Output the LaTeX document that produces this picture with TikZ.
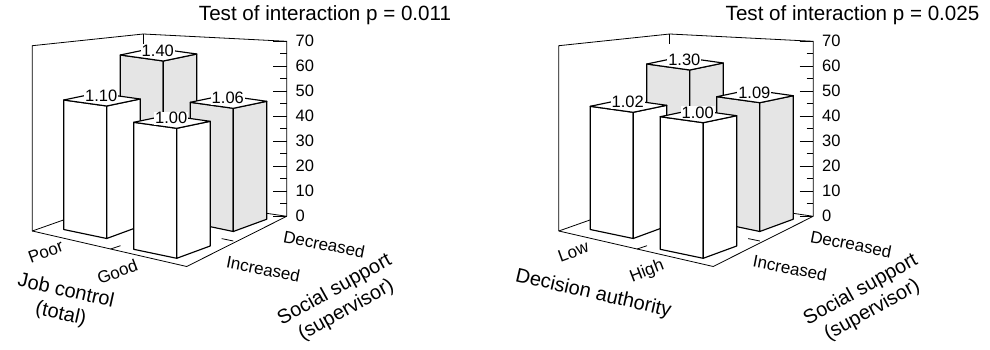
\documentclass[tikz,border=0pt]{standalone}
\usepackage{fontspec}
\setmainfont{Liberation Sans}
\definecolor{boxgray}{gray}{0.9}
\tikzset{
  wall/.style={line width=0.8pt},
  blockline/.style={line width=1.15pt, line join=round},
  vallabel/.style={fill=white, inner xsep=1pt, inner ysep=0.5pt, font=\fontsize{16.5}{18}\selectfont},
  ticklabel/.style={anchor=west, inner sep=0pt, xshift=8.5pt, font=\fontsize{16.5}{18}\selectfont},
  catlabel/.style={inner sep=0pt, font=\fontsize{17}{19}\selectfont},
  axtitle/.style={inner sep=0pt, align=center, font=\fontsize{20}{23.5}\selectfont},
  charttitle/.style={anchor=base, inner sep=0pt, font=\fontsize{20.6}{22}\selectfont}
}
% one block: name, front-bottom x, front-bottom y, height, side fill, value
\newcommand{\drawblock}[6]{%
  \filldraw [blockline, fill=#5] (#2-43,#3-9) -- (#2,#3) -- (#2,#3-#4) -- (#2-43,#3-#4-6) -- cycle;
  \filldraw [blockline, fill=#5] (#2,#3) -- (#2+33.5,#3-12.3) -- (#2+33.5,#3-#4-7) -- (#2,#3-#4) -- cycle;
  \filldraw [blockline, fill=white] (#2,#3-#4) -- (#2-43,#3-#4-6) -- (#2-9.5,#3-#4-13) -- (#2+33.5,#3-#4-7) -- cycle;
  \node [vallabel] (#1) at (#2-5.5,#3-#4-10) {#6};
}
\begin{document}
\begin{tikzpicture}[x=1pt,y=-1pt]
\useasboundingbox (0,0) rectangle (990,350);
% walls, floor and scale of both charts
\foreach \dx/\c in {0/a,526.5/b} {
\begin{scope}[shift={(\dx,0)}]
\draw [wall] (32.3,231) -- (32.3,45.7) -- (143.3,34) -- (286.7,41.3) -- (286.7,216.3);
\draw [wall] (143.3,34) -- (143.3,44);
\draw [wall] (32.3,231) -- (186.7,266.5) -- (286.7,216.3);
\draw [wall] (32.3,231) -- (137,194) -- (286.7,216.3);
\draw [wall] (110.5,249) -- (120.5,245.7);
\draw [wall] (233.3,241) -- (221.7,238.6);
\foreach \v in {0,10,...,70}
  \draw [wall] (273,216.3-2.5*\v) -- (286.7,216.3-2.5*\v) node [ticklabel] (\c-t\v) {\v};
\foreach \v in {5,15,...,65}
  \draw [wall] (280,216.3-2.5*\v) -- (286.7,216.3-2.5*\v);
\end{scope}
}
% job control
\drawblock{a-pd}{163.3}{212}{151}{boxgray}{1.40}
\drawblock{a-gd}{233.3}{231.5}{123.2}{boxgray}{1.06}
\drawblock{a-pi}{106.7}{238.5}{132.5}{white}{1.10}
\drawblock{a-gi}{176.7}{258.3}{130}{white}{1.00}
\node [charttitle] (a-title) at (325,20.7) {Test of interaction p = 0.011};
\node [catlabel, rotate=20] (a-poor) at (45.7,251.7) {Poor};
\node [catlabel, rotate=21] (a-good) at (117.3,271.7) {Good};
\node [axtitle, rotate=-12.5] (a-jobctl) at (63.3,303) {Job control\\(total)};
\node [catlabel, rotate=-11] (a-incr) at (263.3,269) {Increased};
\node [catlabel, rotate=-11] (a-decr) at (324.2,244.2) {Decreased};
\node [axtitle, rotate=29] (a-support) at (340.5,300.3) {Social support\\(supervisor)};
% decision authority
\begin{scope}[shift={(526.5,0)}]
\drawblock{b-ld}{163.3}{212}{142}{boxgray}{1.30}
\drawblock{b-hd}{233.3}{231.5}{128.8}{boxgray}{1.09}
\drawblock{b-li}{106.7}{238.5}{126.2}{white}{1.02}
\drawblock{b-hi}{176.7}{258.3}{135.6}{white}{1.00}
\node [charttitle] (b-title) at (326,20.7) {Test of interaction p = 0.025};
\node [catlabel, rotate=20] (b-low) at (46.8,251.7) {Low};
\node [catlabel, rotate=21] (b-high) at (120.5,271.7) {High};
\node [axtitle, rotate=-13] (b-decauth) at (66.8,294) {Decision authority};
\node [catlabel, rotate=-11] (b-incr) at (263.5,268) {Increased};
\node [catlabel, rotate=-11] (b-decr) at (324.5,244) {Decreased};
\node [axtitle, rotate=29] (b-support) at (340,300.3) {Social support\\(supervisor)};
\end{scope}
\end{tikzpicture}
\end{document}
